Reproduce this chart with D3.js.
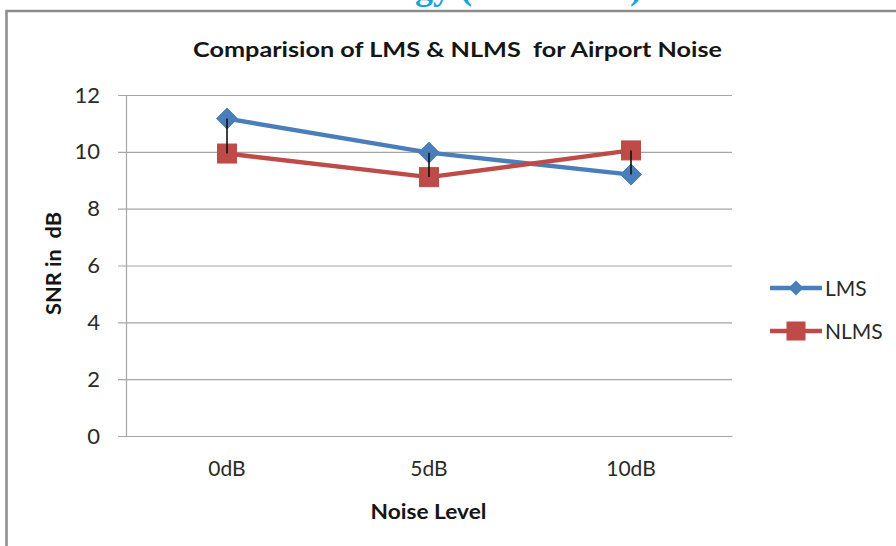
<!DOCTYPE html>
<html>
<head>
<meta charset="utf-8">
<script src="https://cdn.jsdelivr.net/npm/d3@7"></script>
<style>
  html, body { margin: 0; padding: 0; background: #fff; }
  svg { display: block; }
</style>
</head>
<body>
<svg id="chart" width="896" height="546"></svg>
<script>
// Noise levels on the x axis
const categories = ["0dB", "5dB", "10dB"];
// SNR (dB) after filtering
const lmsValues  = [11.17, 9.97, 9.20];
const nlmsValues = [9.94, 9.11, 10.05];
// y axis ticks
const yTicks = [0, 2, 4, 6, 8, 10, 12];

const series = [
  { name: "LMS",  values: lmsValues,  color: "#4A7EBB", marker: "diamond" },
  { name: "NLMS", values: nlmsValues, color: "#BE4B48", marker: "square" }
];

const W = 896, H = 546;
const svg = d3.select("#chart");
const font = "Lato, 'Open Sans', 'DejaVu Sans', sans-serif";

// page heading above the chart, running off the top edge
svg.append("text")
  .attr("x", 642).attr("y", -1)
  .attr("text-anchor", "end")
  .attr("font-family", "'Liberation Serif', serif")
  .attr("font-weight", "bold")
  .attr("font-size", 36)
  .attr("fill", "#1A9FE0")
  .text("Technology (IJARCET)");

// chart frame
svg.append("rect")
  .attr("x", 6.5).attr("y", 11)
  .attr("width", W + 20).attr("height", H + 20)
  .attr("fill", "#fff")
  .attr("stroke", "#8c8c8c")
  .attr("stroke-width", 2.5);

const x = d3.scaleBand().domain(categories).range([126, 732]);
const y = d3.scaleLinear().domain([0, 12]).range([436, 95]);

// gridlines + y axis
const yAxis = d3.axisLeft(y).tickValues(yTicks).tickSize(-(732 - 126)).tickPadding(26).tickFormat(d3.format("d"));
const gy = svg.append("g").attr("transform", "translate(126,0)").call(yAxis);
gy.select(".domain").remove();
gy.selectAll(".tick line").attr("stroke", "#a6a6a6").attr("stroke-width", 1.2).attr("x1", -8);
gy.selectAll(".tick text")
  .attr("font-family", font).attr("font-size", 22).attr("fill", "#2a2a2a");
svg.append("line")
  .attr("x1", 126.5).attr("x2", 126.5).attr("y1", y(12)).attr("y2", y(0))
  .attr("stroke", "#a6a6a6").attr("stroke-width", 1.2);

// x axis
const xAxis = d3.axisBottom(x).tickSize(0).tickPadding(25);
const gx = svg.append("g").attr("transform", `translate(0,${y(0)})`).call(xAxis);
gx.select(".domain").attr("stroke", "#a6a6a6").attr("stroke-width", 1.2);
gx.selectAll(".tick text")
  .attr("font-family", font).attr("font-size", 21).attr("fill", "#2a2a2a");

// title
svg.append("text")
  .attr("x", 457.5).attr("y", 57)
  .attr("text-anchor", "middle")
  .attr("font-family", font).attr("font-weight", "bold")
  .attr("font-size", 21).attr("fill", "#151515")
  .attr("textLength", 529).attr("lengthAdjust", "spacingAndGlyphs")
  .style("white-space", "pre")
  .text("Comparision of LMS & NLMS  for Airport Noise");

// axis titles
svg.append("text")
  .attr("x", 428.5).attr("y", 519)
  .attr("text-anchor", "middle")
  .attr("font-family", font).attr("font-weight", "bold")
  .attr("font-size", 20).attr("fill", "#151515")
  .attr("textLength", 116).attr("lengthAdjust", "spacingAndGlyphs")
  .text("Noise Level");

svg.append("text")
  .attr("transform", "translate(61,263.5) rotate(-90)")
  .attr("text-anchor", "middle")
  .attr("font-family", font).attr("font-weight", "bold")
  .attr("font-size", 20).attr("fill", "#151515")
  .attr("textLength", 103).attr("lengthAdjust", "spacingAndGlyphs")
  .style("white-space", "pre")
  .text("SNR in  dB");

const cx = c => x(c) + x.bandwidth() / 2;

const line = d3.line().x((d, i) => cx(categories[i])).y(d => y(d));
const diamond = s => `M0,${-s}L${s},0L0,${s}L${-s},0Z`;

function drawMarker(g, type, color) {
  if (type === "diamond") {
    g.append("path").attr("d", diamond(10.5)).attr("fill", color).attr("stroke", color).attr("stroke-width", 1);
  } else {
    g.append("rect").attr("x", -9.5).attr("y", -9.5).attr("width", 19).attr("height", 19)
      .attr("fill", color).attr("stroke", color).attr("stroke-width", 1);
  }
}

series.forEach(s => {
  svg.append("path")
    .attr("d", line(s.values))
    .attr("fill", "none").attr("stroke", s.color)
    .attr("stroke-width", 4.4).attr("stroke-linejoin", "round");
});

series.forEach(s => {
  s.values.forEach((v, i) => {
    const g = svg.append("g").attr("transform", `translate(${cx(categories[i])},${y(v)})`);
    drawMarker(g, s.marker, s.color);
  });
});

// high-low lines between the two series, drawn over the markers
svg.append("g").selectAll("line")
  .data(categories)
  .join("line")
  .attr("x1", cx).attr("x2", cx)
  .attr("y1", (c, i) => y(Math.max(lmsValues[i], nlmsValues[i])))
  .attr("y2", (c, i) => y(Math.min(lmsValues[i], nlmsValues[i])))
  .attr("stroke", "#111").attr("stroke-width", 1.6);

// legend
const legend = svg.append("g");
series.forEach((s, i) => {
  const ly = 288 + i * 43;
  const g = legend.append("g").attr("transform", `translate(770,${ly})`);
  g.append("line").attr("x1", 0).attr("x2", 52).attr("y1", 0).attr("y2", 0)
    .attr("stroke", s.color).attr("stroke-width", 4.4);
  const m = g.append("g").attr("transform", "translate(26,0)");
  if (s.marker === "diamond") {
    m.append("path").attr("d", diamond(7.5)).attr("fill", s.color);
  } else {
    m.append("rect").attr("x", -9.5).attr("y", -9.5).attr("width", 19).attr("height", 19).attr("fill", s.color);
  }
  g.append("text").attr("x", 55).attr("y", 8)
    .attr("font-family", font).attr("font-size", 21).attr("fill", "#2a2a2a")
    .text(s.name);
});
</script>
</body>
</html>
